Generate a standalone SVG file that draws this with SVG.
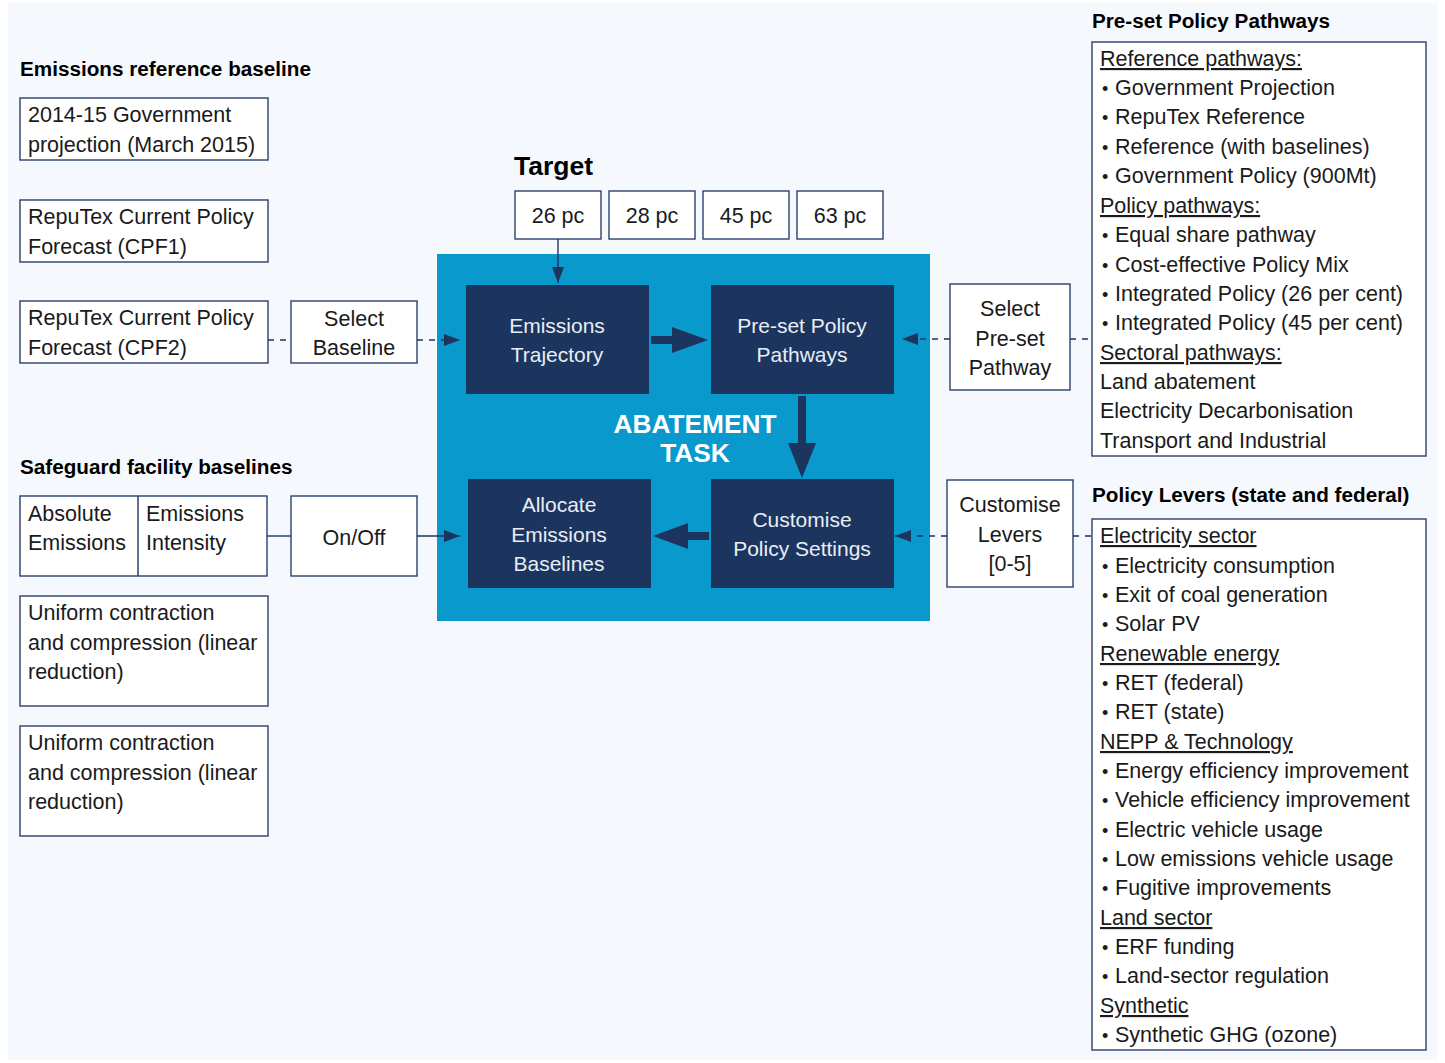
<svg xmlns="http://www.w3.org/2000/svg" width="1445" height="1063" viewBox="0 0 1445 1063">
<style>
text{font-family:"Liberation Sans",Arial,sans-serif;fill:#1a1a1a;font-size:21.5px}
.h{font-weight:bold;font-size:20.7px;fill:#000}
.box{fill:#fff;stroke:#2c3f6e;stroke-width:1.4}
.dk{fill:#1c355f}
.wt{fill:#e8eef5;text-anchor:middle;font-size:21px}
.c{text-anchor:middle}
.u{text-decoration:underline}
.con{stroke:#1c355f;stroke-width:1.4;fill:none}
.dash{stroke-dasharray:6 6}
.big{fill:#1c355f}
.b{font-size:18px}
</style>
<defs>
<marker id="ah" markerUnits="userSpaceOnUse" markerWidth="16" markerHeight="12" refX="16" refY="6" orient="auto">
<path d="M0,0 L16,6 L0,12 Z" fill="#1c355f"/>
</marker>
</defs>
<rect x="0" y="0" width="1445" height="1063" fill="#fff"/>
<rect x="8" y="3" width="1429" height="1057" fill="#f5f9fd"/>

<g id="abatement-task">
<rect x="437" y="254" width="493" height="367" fill="#0a99cd"/>
<text x="695" y="433" class="c" style="font-weight:bold;font-size:26.3px;fill:#fff">ABATEMENT</text>
<text x="695" y="462" class="c" style="font-weight:bold;font-size:26.3px;fill:#fff">TASK</text>
</g>

<g id="heading-emissions"><text x="20" y="76" class="h">Emissions reference baseline</text></g>
<g id="baseline-gov"><rect class="box" x="20" y="98" width="248" height="62"/><text x="28" y="122">2014-15 Government</text><text x="28" y="152">projection (March 2015)</text></g>
<g id="baseline-cpf1"><rect class="box" x="20" y="200" width="248" height="62"/><text x="28" y="224">RepuTex Current Policy</text><text x="28" y="254">Forecast (CPF1)</text></g>
<g id="baseline-cpf2"><rect class="box" x="20" y="301" width="248" height="62"/><text x="28" y="325">RepuTex Current Policy</text><text x="28" y="355">Forecast (CPF2)</text></g>
<g id="select-baseline"><rect class="box" x="291" y="301" width="126" height="62"/><text x="354" y="326" class="c">Select</text><text x="354" y="355" class="c">Baseline</text></g>

<g id="heading-safeguard"><text x="20" y="474" class="h">Safeguard facility baselines</text></g>
<g id="safeguard-type"><rect class="box" x="20" y="496" width="247" height="80"/><line class="con" x1="138" y1="496" x2="138" y2="576"/><text x="28" y="521">Absolute</text><text x="28" y="550">Emissions</text><text x="146" y="521">Emissions</text><text x="146" y="550">Intensity</text></g>
<g id="on-off"><rect class="box" x="291" y="496" width="126" height="80"/><text x="354" y="545" class="c">On/Off</text></g>
<g id="uniform-1"><rect class="box" x="20" y="596" width="248" height="110"/><text x="28" y="620">Uniform contraction</text><text x="28" y="650">and compression (linear</text><text x="28" y="679">reduction)</text></g>
<g id="uniform-2"><rect class="box" x="20" y="726" width="248" height="110"/><text x="28" y="750">Uniform contraction</text><text x="28" y="780">and compression (linear</text><text x="28" y="809">reduction)</text></g>

<g id="heading-target"><text x="514" y="175" style="font-weight:bold;font-size:26.5px;fill:#000">Target</text></g>
<g id="t26"><rect class="box" x="515" y="191" width="86" height="48"/><text x="558" y="223" class="c">26 pc</text></g>
<g id="t28"><rect class="box" x="609" y="191" width="86" height="48"/><text x="652" y="223" class="c">28 pc</text></g>
<g id="t45"><rect class="box" x="703" y="191" width="86" height="48"/><text x="746" y="223" class="c">45 pc</text></g>
<g id="t63"><rect class="box" x="797" y="191" width="86" height="48"/><text x="840" y="223" class="c">63 pc</text></g>

<g id="emissions-trajectory"><rect class="dk" x="466" y="285" width="183" height="109"/><text x="557" y="333" class="wt">Emissions</text><text x="557" y="362" class="wt">Trajectory</text></g>
<g id="preset-pathways"><rect class="dk" x="711" y="285" width="183" height="109"/><text x="802" y="333" class="wt">Pre-set Policy</text><text x="802" y="362" class="wt">Pathways</text></g>
<g id="allocate-baselines"><rect class="dk" x="468" y="479" width="183" height="109"/><text x="559" y="512" class="wt">Allocate</text><text x="559" y="542" class="wt">Emissions</text><text x="559" y="571" class="wt">Baselines</text></g>
<g id="customise-settings"><rect class="dk" x="711" y="479" width="183" height="109"/><text x="802" y="527" class="wt">Customise</text><text x="802" y="556" class="wt">Policy Settings</text></g>

<g id="select-preset"><rect class="box" x="950" y="284" width="120" height="106"/><text x="1010" y="316" class="c">Select</text><text x="1010" y="346" class="c">Pre-set</text><text x="1010" y="375" class="c">Pathway</text></g>
<g id="customise-levers"><rect class="box" x="947" y="480" width="126" height="107"/><text x="1010" y="512" class="c">Customise</text><text x="1010" y="542" class="c">Levers</text><text x="1010" y="571" class="c">[0-5]</text></g>

<g id="pathways-panel">
<text x="1092" y="28" class="h">Pre-set Policy Pathways</text>
<rect class="box" x="1092" y="42" width="334" height="414"/>
<text x="1100" y="66" class="u">Reference pathways:</text>
<text x="1102" y="95" class="b">•</text><text x="1115" y="95">Government Projection</text>
<text x="1102" y="124" class="b">•</text><text x="1115" y="124">RepuTex Reference</text>
<text x="1102" y="154" class="b">•</text><text x="1115" y="154">Reference (with baselines)</text>
<text x="1102" y="183" class="b">•</text><text x="1115" y="183">Government Policy (900Mt)</text>
<text x="1100" y="213" class="u">Policy pathways:</text>
<text x="1102" y="242" class="b">•</text><text x="1115" y="242">Equal share pathway</text>
<text x="1102" y="272" class="b">•</text><text x="1115" y="272">Cost-effective Policy Mix</text>
<text x="1102" y="301" class="b">•</text><text x="1115" y="301">Integrated Policy (26 per cent)</text>
<text x="1102" y="330" class="b">•</text><text x="1115" y="330">Integrated Policy (45 per cent)</text>
<text x="1100" y="360" class="u">Sectoral pathways:</text>
<text x="1100" y="389">Land abatement</text>
<text x="1100" y="418">Electricity Decarbonisation</text>
<text x="1100" y="448">Transport and Industrial</text>
</g>

<g id="levers-panel">
<text x="1092" y="502" class="h">Policy Levers (state and federal)</text>
<rect class="box" x="1092" y="519" width="334" height="531"/>
<text x="1100" y="543" class="u">Electricity sector</text>
<text x="1102" y="573" class="b">•</text><text x="1115" y="573">Electricity consumption</text>
<text x="1102" y="602" class="b">•</text><text x="1115" y="602">Exit of coal generation</text>
<text x="1102" y="631" class="b">•</text><text x="1115" y="631">Solar PV</text>
<text x="1100" y="661" class="u">Renewable energy</text>
<text x="1102" y="690" class="b">•</text><text x="1115" y="690">RET (federal)</text>
<text x="1102" y="719" class="b">•</text><text x="1115" y="719">RET (state)</text>
<text x="1100" y="749" class="u">NEPP &amp; Technology</text>
<text x="1102" y="778" class="b">•</text><text x="1115" y="778">Energy efficiency improvement</text>
<text x="1102" y="807" class="b">•</text><text x="1115" y="807">Vehicle efficiency improvement</text>
<text x="1102" y="837" class="b">•</text><text x="1115" y="837">Electric vehicle usage</text>
<text x="1102" y="866" class="b">•</text><text x="1115" y="866">Low emissions vehicle usage</text>
<text x="1102" y="895" class="b">•</text><text x="1115" y="895">Fugitive improvements</text>
<text x="1100" y="925" class="u">Land sector</text>
<text x="1102" y="954" class="b">•</text><text x="1115" y="954">ERF funding</text>
<text x="1102" y="983" class="b">•</text><text x="1115" y="983">Land-sector regulation</text>
<text x="1100" y="1013" class="u">Synthetic </text>
<text x="1102" y="1042" class="b">•</text><text x="1115" y="1042">Synthetic GHG (ozone)</text>
</g>

<g id="connectors">
<line class="con dash" x1="268" y1="340" x2="291" y2="340"/>
<line class="con dash" x1="417" y1="340" x2="460" y2="340" marker-end="url(#ah)"/>
<line class="con" x1="267" y1="536" x2="291" y2="536"/>
<line class="con" x1="417" y1="536" x2="460" y2="536" marker-end="url(#ah)"/>
<line class="con" x1="558" y1="239" x2="558" y2="283" marker-end="url(#ah)"/>
<line class="con dash" x1="950" y1="339" x2="902" y2="339" marker-end="url(#ah)"/>
<line class="con dash" x1="1070" y1="339" x2="1092" y2="339"/>
<line class="con dash" x1="947" y1="536" x2="895" y2="536" marker-end="url(#ah)"/>
<line class="con dash" x1="1073" y1="536" x2="1092" y2="536"/>
<path class="big" d="M651,336 L672,336 L672,327 L708,340 L672,353 L672,344 L651,344 Z"/>
<path class="big" d="M798,396 L806,396 L806,443 L816,443 L802,478 L788,443 L798,443 Z"/>
<path class="big" d="M709,532 L688,532 L688,523 L653,536 L688,549 L688,540 L709,540 Z"/>
</g>
</svg>
